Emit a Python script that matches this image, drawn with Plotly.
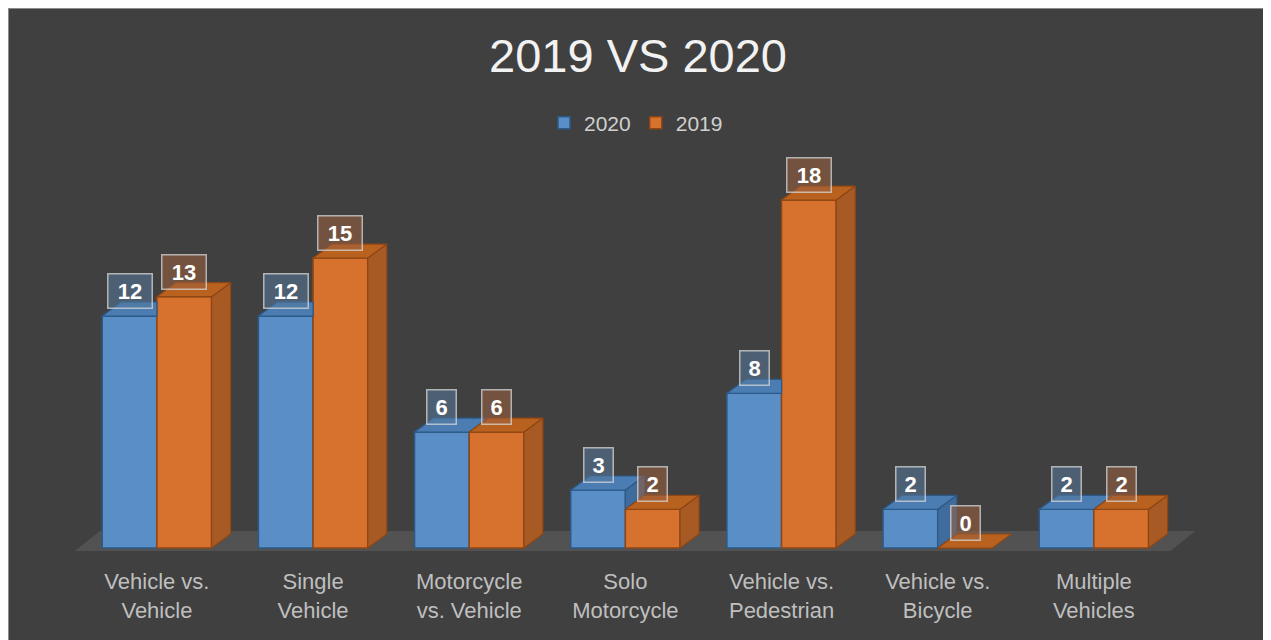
import plotly.graph_objects as go

# ---------------- data ----------------
categories = ["Vehicle vs.<br>Vehicle", "Single<br>Vehicle", "Motorcycle<br>vs. Vehicle",
              "Solo<br>Motorcycle", "Vehicle vs.<br>Pedestrian", "Vehicle vs.<br>Bicycle",
              "Multiple<br>Vehicles"]
values_2020 = [12, 12, 6, 3, 8, 2, 2]
values_2019 = [13, 15, 6, 2, 18, 0, 2]
series_names = ["2020", "2019"]
title_text = "2019 VS 2020"

# ---------------- styling ----------------
# the page places the figure 8px from the top-left corner
W, H = 1260, 632
ML, MT = 63, 142
PW, PH = 1140, 408
MR = W - ML - PW
MB = H - MT - PH
X_RANGE = [-0.55, 6.75]
Y_RANGE = [-0.517, 20.59]

BAR_W = 0.35          # width of each bar (category units)
DX = 0.122            # 3D depth offset, x (category units)
DY = 0.724            # 3D depth offset, y (value units)

FRONT = {"2020": "#5a8ec6", "2019": "#d7722e"}
TOP = {"2020": "#4b7db3", "2019": "#b9621f"}
SIDE = {"2020": "#3f6c9c", "2019": "#a85a24"}
EDGE = {"2020": "#2b5a88", "2019": "#8e4614"}
BOX = {"2020": "rgba(88,122,156,0.55)", "2019": "rgba(156,96,64,0.55)"}
BG = "#404040"
FLOOR = "#525252"
FONT = "Liberation Sans, Arial, sans-serif"

fig = go.Figure()

xs = list(range(len(categories)))
series = [("2020", values_2020, -BAR_W), ("2019", values_2019, 0.0)]

# front faces as real bars
for name, vals, off in series:
    fig.add_trace(go.Bar(
        x=xs, y=vals, name=name, width=BAR_W, offset=off,
        marker=dict(color=FRONT[name], line=dict(color=EDGE[name], width=1.5)),
        cliponaxis=False,
    ))


def poly(pts, name, color):
    xs_ = [p[0] for p in pts] + [pts[0][0]]
    ys_ = [p[1] for p in pts] + [pts[0][1]]
    fig.add_trace(go.Scatter(
        x=xs_, y=ys_, mode="lines", fill="toself", fillcolor=color,
        line=dict(color=EDGE[name], width=1.2), showlegend=False,
        hoverinfo="skip", cliponaxis=False,
    ))


# depth faces (top and side) computed from the values
for i in xs:
    vb = values_2020[i]
    vo = values_2019[i]
    # 2020 bar: left half of the group
    xl = i - BAR_W
    xr = i
    if vb > vo:
        poly([(xr, vo), (xr + DX, vo + DY), (xr + DX, vb + DY), (xr, vb)], "2020", SIDE["2020"])
    if vo > vb:
        poly([(xl, vb), (xr, vb), (xr, vb + DY), (xl + DX, vb + DY)], "2020", TOP["2020"])
    else:
        poly([(xl, vb), (xr, vb), (xr + DX, vb + DY), (xl + DX, vb + DY)], "2020", TOP["2020"])
    # 2019 bar: right half
    xl = i
    xr = i + BAR_W
    if vo > 0:
        poly([(xr, 0), (xr + DX, DY), (xr + DX, vo + DY), (xr, vo)], "2019", SIDE["2019"])
    poly([(xl, vo), (xr, vo), (xr + DX, vo + DY), (xl + DX, vo + DY)], "2019", TOP["2019"])

# data labels
for name, vals, off in series:
    for i, v in zip(xs, vals):
        txt = str(v)
        fig.add_annotation(
            x=i + off + BAR_W / 2, y=v, xref="x", yref="y",
            text=f"<b>{txt}</b>", showarrow=False,
            yanchor="bottom", yshift=7,
            font=dict(family=FONT, size=22, color="#ffffff"),
            bgcolor=BOX[name], bordercolor="rgba(215,215,215,0.75)", borderwidth=1.5,
            borderpad=2, width=39 if len(txt) > 1 else 24, height=29,
        )


def px_to_paper_x(px):
    return (px - ML) / PW


def px_to_paper_y(py):
    return (MT + PH - py) / PH


n = len(categories)
fl_x0, fl_x1 = -0.525, n - 1 + 0.49
fl_y0, fl_depth_x, fl_depth_y = -0.155, 0.16, 1.03
floor_path = (f"M {fl_x0},{fl_y0} L {fl_x1},{fl_y0} L {fl_x1 + fl_depth_x},{fl_y0 + fl_depth_y} "
              f"L {fl_x0 + fl_depth_x},{fl_y0 + fl_depth_y} Z")

fig.update_layout(
    shapes=[
        dict(type="rect", xref="paper", yref="paper", layer="below",
             x0=px_to_paper_x(0), x1=px_to_paper_x(W - 1),
             y0=px_to_paper_y(0), y1=px_to_paper_y(H + 20),
             fillcolor=BG, line=dict(color="#8c8c8c", width=2)),
        dict(type="path", xref="x", yref="y", layer="below", path=floor_path,
             fillcolor=FLOOR, line=dict(width=0)),
    ],
)

fig.update_layout(
    width=W, height=H,
    margin=dict(l=ML, r=MR, t=MT, b=MB, pad=0),
    paper_bgcolor=BG,
    plot_bgcolor="rgba(0,0,0,0)",
    barmode="overlay",
    title=dict(text=title_text, x=0.5, xanchor="center", xref="container",
               y=1 - 48 / H, yanchor="middle", yref="container",
               font=dict(family=FONT, size=47, color="#f2f2f2")),
    legend=dict(orientation="h", x=px_to_paper_x(628), xanchor="center",
                y=px_to_paper_y(115), yanchor="middle", itemwidth=30,
                font=dict(family=FONT, size=21, color="#d0d0d0"),
                bgcolor="rgba(0,0,0,0)"),
    xaxis=dict(range=X_RANGE, tickmode="array", tickvals=xs, ticktext=categories,
               showgrid=False, zeroline=False, showline=False, ticks="",
               ticklabelstandoff=8,
               tickfont=dict(family=FONT, size=22, color="#bfbfbf"),
               fixedrange=True),
    yaxis=dict(range=Y_RANGE, visible=False, showgrid=False, zeroline=False, fixedrange=True),
    showlegend=True,
)

fig.write_html("out.html")
